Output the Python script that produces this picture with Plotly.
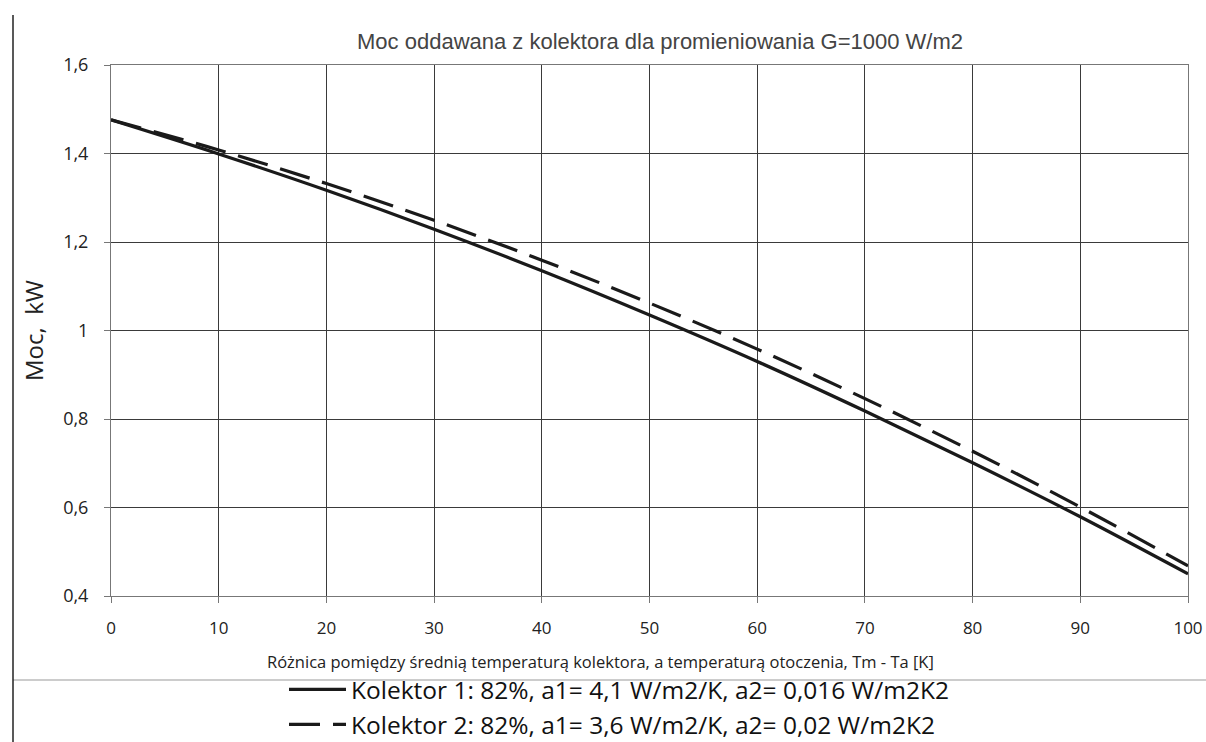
import plotly.graph_objects as go

dT = [0, 10, 20, 30, 40, 50, 60, 70, 80, 90, 100]
moc_k1 = [1.476, 1.399, 1.317, 1.229, 1.135, 1.035, 0.930, 0.818, 0.701, 0.579, 0.450]
moc_k2 = [1.476, 1.408, 1.332, 1.249, 1.159, 1.062, 0.958, 0.846, 0.727, 0.601, 0.468]
name_k1 = "Kolektor 1: 82%, a1= 4,1 W/m2/K, a2= 0,016 W/m2K2"
name_k2 = "Kolektor 2: 82%, a1= 3,6 W/m2/K, a2= 0,02 W/m2K2"
x_title = "Różnica pomiędzy średnią temperaturą kolektora, a temperaturą otoczenia, Tm - Ta [K]"
x_ticks = list(range(0, 101, 10))
y_ticks = [0.4, 0.6, 0.8, 1.0, 1.2, 1.4, 1.6]
y_labels = ["0,4", "0,6", "0,8", "1", "1,2", "1,4", "1,6"]

W, H = 1206, 742
L, R, T, B = 111, W - 1188, 65, H - 596
pw, ph = W - L - R, H - T - B


def px_x(x):
    return (x - L) / pw


def px_y(y):
    return (H - B - y) / ph


fig = go.Figure()
fig.add_trace(go.Scatter(x=dT, y=moc_k1, mode="lines", name=name_k1,
                         line=dict(color="#1a1a1a", width=3.2, shape="spline")))
fig.add_trace(go.Scatter(x=dT, y=moc_k2, mode="lines", name=name_k2,
                         line=dict(color="#1a1a1a", width=3.2, shape="spline", dash="31px,13px")))

font_tick = "Open Sans, Liberation Sans, sans-serif"
fig.update_layout(
    width=W, height=H,
    margin=dict(l=L, r=R, t=T, b=B, autoexpand=False),
    paper_bgcolor="white", plot_bgcolor="white",
    title=dict(text="Moc oddawana z kolektora dla promieniowania G=1000 W/m2",
               xref="container", yref="container",
               x=660 / W, xanchor="center", y=1 - 41 / H, yanchor="middle",
               font=dict(family="Liberation Sans, Arial, sans-serif", size=22, color="#444")),
    xaxis=dict(range=[0, 100], tickvals=x_ticks, showgrid=True, gridcolor="#3a3a3a", gridwidth=1,
               ticks="outside", ticklen=6, tickcolor="#777", showline=True, linecolor="#777", mirror=True,
               zeroline=False, automargin=False, ticklabelstandoff=11,
               tickfont=dict(family=font_tick, size=17, color="#222")),
    yaxis=dict(range=[0.4, 1.6], tickvals=y_ticks, ticktext=y_labels, showgrid=True, gridcolor="#3a3a3a",
               gridwidth=1, ticks="outside", ticklen=6, tickcolor="#777", showline=True, linecolor="#777",
               mirror=True, zeroline=False, automargin=False, ticklabelstandoff=12,
               tickfont=dict(family=font_tick, size=18, color="#222"),
               title=dict(text="Moc,  kW", font=dict(family=font_tick, size=24, color="#222"), standoff=12)),
    showlegend=True,
    legend=dict(x=px_x(284), xanchor="left", y=px_y(667), yanchor="top", orientation="v",
                font=dict(family=font_tick, size=24.5, color="#111"), itemwidth=57,
                tracegroupgap=0, bgcolor="rgba(0,0,0,0)"),
)
fig.add_annotation(text=x_title, xref="paper", yref="paper", x=px_x(600), y=px_y(661),
                   xanchor="center", yanchor="middle", showarrow=False,
                   font=dict(family=font_tick, size=16.5, color="#222"))
fig.add_shape(type="line", xref="paper", yref="paper", x0=px_x(13), x1=px_x(1206), y0=px_y(680), y1=px_y(680),
              line=dict(color="#bbb", width=1.5))
fig.add_shape(type="line", xref="paper", yref="paper", x0=px_x(13), x1=px_x(13), y0=px_y(742), y1=px_y(15),
              line=dict(color="#222", width=1.5))
fig.write_html("out.html", config={"displayModeBar": False},
               post_script="document.body.style.margin='0';document.body.style.overflow='hidden';")
